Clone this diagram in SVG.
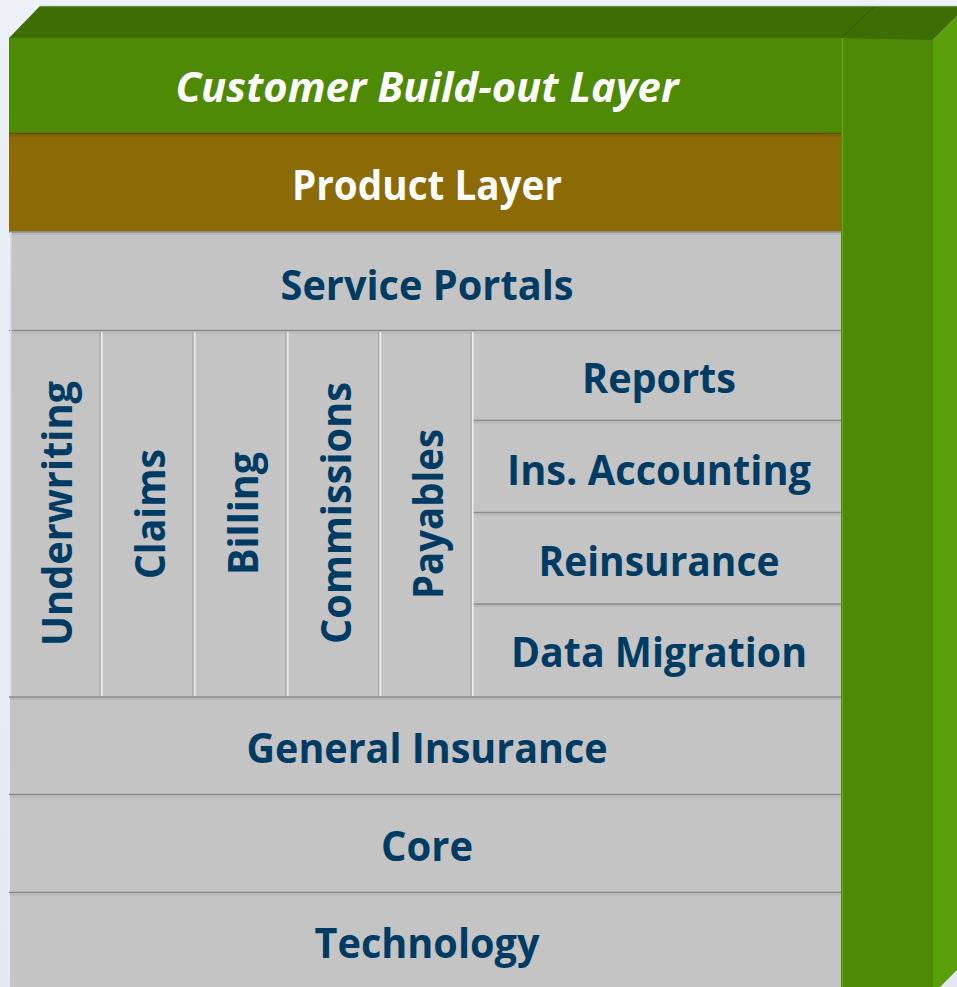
<svg xmlns="http://www.w3.org/2000/svg" width="957" height="987" viewBox="0 0 957 987">
  <defs>
    <linearGradient id="bg" x1="0" y1="0" x2="0" y2="1">
      <stop offset="0" stop-color="#ecf1f8"/>
      <stop offset="1" stop-color="#e3e8f2"/>
    </linearGradient>
  </defs>
  <style>
    .lbl{font-family:"Open Sans","Liberation Sans",sans-serif;font-weight:700;font-size:42px;fill:#003b64;text-anchor:middle}
    .wht{fill:#ffffff}
    .ital{font-style:italic}
    .panel{fill:#c4c4c4}
    .sep{stroke:#8a8a8a;stroke-width:1.5}
    .sep2{stroke:#b7b7b7;stroke-width:2}
    .vdark{stroke:#a2a2a2;stroke-width:1}
    .vlight{stroke:#ececec;stroke-width:1.6}
  </style>
  <rect x="0" y="0" width="957" height="987" fill="url(#bg)"/>

  <!-- 3D frame: right column and top faces -->
  <g id="frame">
    <polygon points="933,40 967,6 967,960 933,994" fill="#5aa00a"/>
    <rect x="841" y="38" width="92" height="949" fill="#4e8a06"/>
    <line x1="842.5" y1="38" x2="842.5" y2="987" stroke="#64a614" stroke-width="1.2"/>
    <polygon points="9,38 40,6 967,6 933,40 841,38" fill="#3e6d05"/>
    <line x1="875" y1="6" x2="841" y2="38" stroke="#33590a" stroke-width="1"/>
    <line x1="40" y1="6.3" x2="957" y2="6.3" stroke="#8fa07a" stroke-width="0.8"/>
  </g>

  <g id="customer-build-out-layer">
    <rect x="9" y="38" width="832" height="96" fill="#4e8a06"/>
    <text class="lbl wht ital" x="427" y="102" textLength="503" lengthAdjust="spacingAndGlyphs">Customer Build-out Layer</text>
  </g>

  <g id="product-layer">
    <rect x="9" y="133" width="832" height="99" fill="#8c6a06"/>
    <line x1="9" y1="133.5" x2="841" y2="133.5" stroke="#5f4a08" stroke-width="1.5"/>
    <line x1="9" y1="135.5" x2="841" y2="135.5" stroke="#7e6006" stroke-width="2"/>
    <text class="lbl wht" x="427" y="200" textLength="270" lengthAdjust="spacingAndGlyphs">Product Layer</text>
  </g>

  <g id="service-portals">
    <rect class="panel" x="10" y="231.5" width="831" height="99"/>
    <line class="sep" x1="9" y1="232" x2="841" y2="232"/>
    <line class="sep2" x1="10" y1="234" x2="841" y2="234"/>
    <text class="lbl" x="427" y="300" textLength="293" lengthAdjust="spacingAndGlyphs">Service Portals</text>
  </g>

  <g id="underwriting">
    <rect class="panel" x="10" y="330" width="91" height="366.5"/>
    <text class="lbl" transform="translate(72,513.5) rotate(-90)" x="0" y="0" textLength="265" lengthAdjust="spacingAndGlyphs">Underwriting</text>
  </g>
  <g id="claims">
    <rect class="panel" x="101" y="330" width="93" height="366.5"/>
    <text class="lbl" transform="translate(165,514) rotate(-90)" x="0" y="0" textLength="130" lengthAdjust="spacingAndGlyphs">Claims</text>
  </g>
  <g id="billing">
    <rect class="panel" x="194" y="330" width="93" height="366.5"/>
    <text class="lbl" transform="translate(258,513.5) rotate(-90)" x="0" y="0" textLength="123" lengthAdjust="spacingAndGlyphs">Billing</text>
  </g>
  <g id="commissions">
    <rect class="panel" x="287" y="330" width="92" height="366.5"/>
    <text class="lbl" transform="translate(351,513) rotate(-90)" x="0" y="0" textLength="262" lengthAdjust="spacingAndGlyphs">Commissions</text>
  </g>
  <g id="payables">
    <rect class="panel" x="379" y="330" width="93" height="366.5"/>
    <text class="lbl" transform="translate(443,514) rotate(-90)" x="0" y="0" textLength="170" lengthAdjust="spacingAndGlyphs">Payables</text>
  </g>

  <g id="reports">
    <rect class="panel" x="472" y="330" width="369" height="91"/>
    <text class="lbl" x="659" y="393" textLength="154" lengthAdjust="spacingAndGlyphs">Reports</text>
  </g>
  <g id="ins-accounting">
    <rect class="panel" x="472" y="420.5" width="369" height="92"/>
    <line class="sep" x1="472" y1="420.5" x2="841" y2="420.5"/>
    <line class="sep2" x1="472" y1="422.5" x2="841" y2="422.5"/>
    <text class="lbl" x="659" y="485" textLength="304" lengthAdjust="spacingAndGlyphs">Ins. Accounting</text>
  </g>
  <g id="reinsurance">
    <rect class="panel" x="472" y="512.5" width="369" height="91.5"/>
    <line class="sep" x1="472" y1="512.5" x2="841" y2="512.5"/>
    <line class="sep2" x1="472" y1="514.5" x2="841" y2="514.5"/>
    <text class="lbl" x="659" y="576" textLength="241" lengthAdjust="spacingAndGlyphs">Reinsurance</text>
  </g>
  <g id="data-migration">
    <rect class="panel" x="472" y="604" width="369" height="92.5"/>
    <line class="sep" x1="472" y1="604" x2="841" y2="604"/>
    <line class="sep2" x1="472" y1="606" x2="841" y2="606"/>
    <text class="lbl" x="659" y="667" textLength="296" lengthAdjust="spacingAndGlyphs">Data Migration</text>
  </g>

  <g id="middle-edges">
    <line class="sep" x1="9" y1="330.5" x2="841" y2="330.5"/>
    <line class="sep2" x1="10" y1="332.5" x2="841" y2="332.5"/>
    <line class="vdark" x1="100" y1="332" x2="100" y2="696"/>
    <line class="vlight" x1="101.8" y1="332" x2="101.8" y2="696"/>
    <line class="vdark" x1="193" y1="332" x2="193" y2="696"/>
    <line class="vlight" x1="194.8" y1="332" x2="194.8" y2="696"/>
    <line class="vdark" x1="286" y1="332" x2="286" y2="696"/>
    <line class="vlight" x1="287.8" y1="332" x2="287.8" y2="696"/>
    <line class="vdark" x1="378.5" y1="332" x2="378.5" y2="696"/>
    <line class="vlight" x1="380.3" y1="332" x2="380.3" y2="696"/>
    <line class="vdark" x1="471" y1="332" x2="471" y2="696"/>
    <line class="vlight" x1="472.8" y1="332" x2="472.8" y2="696"/>
    <line x1="10.8" y1="232" x2="10.8" y2="987" stroke="#dcdcdc" stroke-width="1.5"/>
  </g>

  <g id="general-insurance">
    <rect class="panel" x="10" y="696.5" width="831" height="98"/>
    <line class="sep" x1="9" y1="697" x2="841" y2="697"/>
    <line class="sep2" x1="10" y1="699" x2="841" y2="699"/>
    <text class="lbl" x="427" y="763" textLength="361" lengthAdjust="spacingAndGlyphs">General Insurance</text>
  </g>

  <g id="core">
    <rect class="panel" x="10" y="794" width="831" height="98"/>
    <line class="sep" x1="9" y1="794.5" x2="841" y2="794.5"/>
    <line class="sep2" x1="10" y1="796.5" x2="841" y2="796.5"/>
    <text class="lbl" x="427" y="861" textLength="92" lengthAdjust="spacingAndGlyphs">Core</text>
  </g>

  <g id="technology">
    <rect class="panel" x="10" y="892" width="831" height="95"/>
    <line class="sep" x1="9" y1="892.5" x2="841" y2="892.5"/>
    <line class="sep2" x1="10" y1="894.5" x2="841" y2="894.5"/>
    <text class="lbl" x="427" y="958" textLength="225" lengthAdjust="spacingAndGlyphs">Technology</text>
  </g>

  <g id="connectors"/>
</svg>
